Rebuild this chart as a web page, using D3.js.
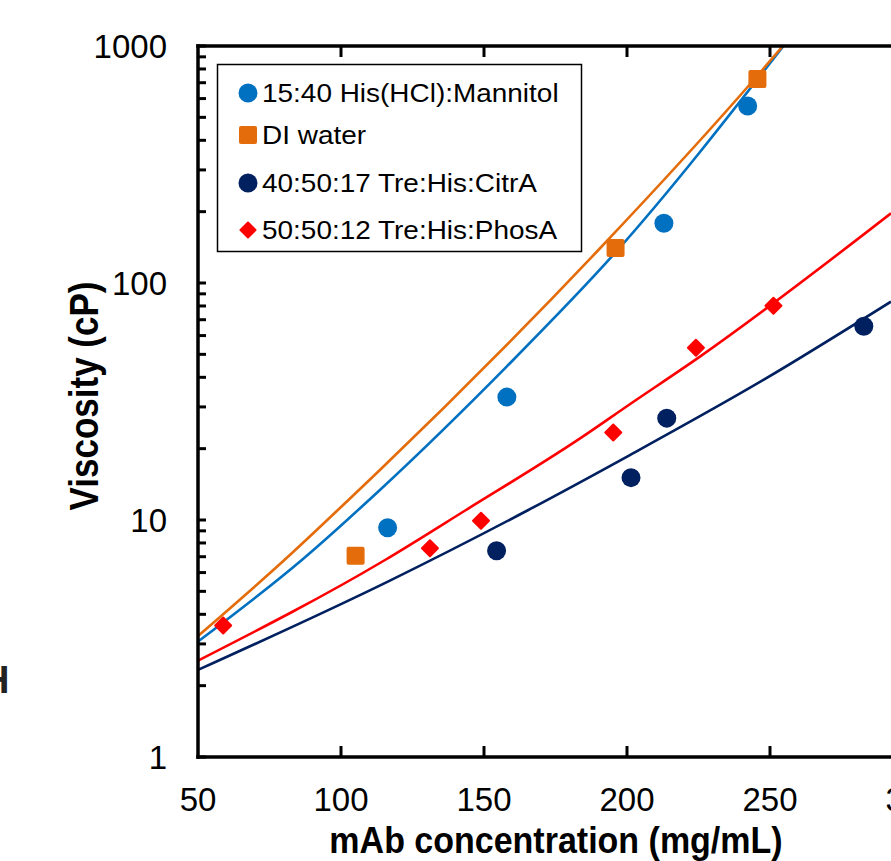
<!DOCTYPE html>
<html>
<head>
<meta charset="utf-8">
<script src="https://cdn.jsdelivr.net/npm/d3@7"></script>
<style>
  html, body { margin: 0; padding: 0; background: #fff; }
  svg { display: block; font-family: Arial, "Liberation Sans", sans-serif; }
</style>
</head>
<body>
<svg id="chart" width="891" height="861"></svg>
<script>
// Measured viscosity (cP) versus mAb concentration (mg/mL)
const hisMannitolConc = [116.3, 158.0, 212.9, 242.2];
const hisMannitolVisc = [9.28, 33.0, 178.6, 558];

const diWaterConc = [105.1, 196.0, 245.6];
const diWaterVisc = [7.07, 140.5, 726];

const citrConc = [154.4, 201.4, 213.9, 282.8];
const citrVisc = [7.42, 15.09, 26.9, 65.7];

const phosConc = [58.8, 131.1, 148.95, 195.2, 224.1, 251.2];
const phosVisc = [3.59, 7.60, 9.93, 23.4, 53.3, 80.2];

// Fitted trend curves, sampled along each fit
const hisMannitolFitConc = [50, 86.3, 113.6, 158.0, 195.2, 254.7];
const hisMannitolFitVisc = [3.07, 6.78, 13.39, 44.5, 131.3, 1000];

const diWaterFitConc = [50, 80.2, 102.6, 113.6, 190.0, 245.5, 254.5];
const diWaterFitVisc = [3.24, 6.78, 12.15, 16.25, 137.8, 747, 1000];

const citrFitConc = [50, 117.1, 165.5, 201.0, 247.7, 292.3];
const citrFitVisc = [2.33, 5.55, 11.02, 18.79, 38.99, 83.4];

const phosFitConc = [50, 115.4, 143.7, 183.6, 201.0, 225.5, 292.3];
const phosFitVisc = [2.55, 6.78, 11.02, 22.1, 30.8, 48.9, 196.8];

// Axis ticks
const xTicks = [50, 100, 150, 200, 250, 300];
const yTicks = [1, 10, 100, 1000];

const seriesNames = [
  "15:40 His(HCl):Mannitol",
  "DI water",
  "40:50:17 Tre:His:CitrA",
  "50:50:12 Tre:His:PhosA"
];
const seriesColors = ["#0070C0", "#E46C0A", "#002060", "#FF0000"];
const seriesShapes = ["circle", "square", "circle", "diamond"];

const series = [
  { conc: hisMannitolConc, visc: hisMannitolVisc, fitC: hisMannitolFitConc, fitV: hisMannitolFitVisc },
  { conc: diWaterConc, visc: diWaterVisc, fitC: diWaterFitConc, fitV: diWaterFitVisc },
  { conc: citrConc, visc: citrVisc, fitC: citrFitConc, fitV: citrFitVisc },
  { conc: phosConc, visc: phosVisc, fitC: phosFitConc, fitV: phosFitVisc }
].map((s, i) => ({ ...s, name: seriesNames[i], color: seriesColors[i], shape: seriesShapes[i] }));

const svg = d3.select("#chart");
const plotLeft = 198, plotTop = 46, plotBottom = 757;

const x = d3.scaleLinear().domain([50, 300]).range([plotLeft, 913]);
const y = d3.scaleLog().domain([1, 1000]).range([plotBottom, plotTop]);

// Clip plot contents to the axes frame
svg.append("defs").append("clipPath").attr("id", "plot-clip")
  .append("rect").attr("x", plotLeft).attr("y", plotTop)
  .attr("width", 1000).attr("height", plotBottom - plotTop);

const plot = svg.append("g").attr("clip-path", "url(#plot-clip)");

// Fit curves
const line = d3.line()
  .x(d => x(d[0]))
  .y(d => y(d[1]))
  .curve(d3.curveMonotoneX);

plot.selectAll("path.fit")
  .data(series)
  .join("path")
  .attr("class", "fit")
  .attr("fill", "none")
  .attr("stroke", d => d.color)
  .attr("stroke-width", 2.6)
  .attr("d", d => line(d.fitC.map((c, i) => [c, d.fitV[i]])));

// Marker drawing
function marker(sel, shape, color, size) {
  if (shape === "circle") {
    sel.append("circle").attr("r", size / 2).attr("fill", color);
  } else if (shape === "square") {
    sel.append("rect")
      .attr("x", -size / 2).attr("y", -size / 2)
      .attr("width", size).attr("height", size)
      .attr("rx", 2).attr("fill", color);
  } else {
    const h = size / 2;
    sel.append("path")
      .attr("d", `M0,${-h}L${h},0L0,${h}L${-h},0Z`)
      .attr("fill", color)
      .attr("stroke", color).attr("stroke-width", 2).attr("stroke-linejoin", "round");
  }
}

series.forEach(s => {
  const size = s.shape === "diamond" ? 16 : s.shape === "square" ? 18 : 19;
  plot.append("g").selectAll("g")
    .data(s.conc.map((c, i) => [c, s.visc[i]]))
    .join("g")
    .attr("transform", d => `translate(${x(d[0])},${y(d[1])})`)
    .each(function () { marker(d3.select(this), s.shape, s.color, size); });
});

// Axes frame
const frame = svg.append("g").attr("stroke", "#000").attr("stroke-width", 3.5).attr("stroke-linecap", "square");
frame.append("line").attr("x1", plotLeft).attr("x2", plotLeft).attr("y1", plotTop).attr("y2", plotBottom);
frame.append("line").attr("x1", plotLeft).attr("x2", 900).attr("y1", plotTop).attr("y2", plotTop);
frame.append("line").attr("x1", plotLeft).attr("x2", 900).attr("y1", plotBottom).attr("y2", plotBottom);

// X ticks (inward, top and bottom)
const xt = svg.append("g").attr("stroke", "#000").attr("stroke-width", 3);
xt.selectAll("line.b").data(xTicks.slice(1)).join("line").attr("class", "b")
  .attr("x1", d => x(d)).attr("x2", d => x(d))
  .attr("y1", plotBottom).attr("y2", plotBottom - 11);
xt.selectAll("line.t").data(xTicks.slice(1)).join("line").attr("class", "t")
  .attr("x1", d => x(d)).attr("x2", d => x(d))
  .attr("y1", plotTop).attr("y2", plotTop + 11);

svg.append("g").selectAll("text").data(xTicks).join("text")
  .attr("x", d => x(d)).attr("y", 811)
  .attr("text-anchor", "middle")
  .attr("font-size", 33)
  .attr("fill", "#000")
  .text(d => d);

// Y ticks (major and minor, inward)
const yMinor = [];
for (let dec = 1; dec < 1000; dec *= 10) {
  for (let m = 2; m <= 9; m++) yMinor.push(dec * m);
}
const yt = svg.append("g").attr("stroke", "#000").attr("stroke-width", 3);
yt.selectAll("line").data(yTicks.concat(yMinor)).join("line")
  .attr("x1", plotLeft).attr("x2", plotLeft + 8)
  .attr("y1", d => y(d)).attr("y2", d => y(d));

svg.append("g").selectAll("text").data(yTicks).join("text")
  .attr("x", 167).attr("y", d => y(d))
  .attr("dy", "0.36em")
  .attr("text-anchor", "end")
  .attr("font-size", 33)
  .attr("fill", "#000")
  .text(d => d);

// Axis titles
svg.append("text")
  .attr("transform", "translate(98,396) rotate(-90) scale(1,1.17)")
  .attr("text-anchor", "middle")
  .attr("font-size", 35).attr("font-weight", "bold")
  .attr("fill", "#000")
  .text("Viscosity (cP)");

svg.append("text")
  .attr("transform", "translate(556,853) scale(1,1.1)")
  .attr("text-anchor", "middle")
  .attr("font-size", 34).attr("font-weight", "bold")
  .attr("fill", "#000")
  .text("mAb concentration (mg/mL)");

// Neighbouring panel label edge
svg.append("text")
  .attr("x", 9.5).attr("y", 693)
  .attr("text-anchor", "end")
  .attr("font-size", 38).attr("font-weight", "bold")
  .attr("fill", "#222")
  .text("H");

// Legend
const legend = svg.append("g");
legend.append("rect")
  .attr("x", 217.5).attr("y", 64.5)
  .attr("width", 364).attr("height", 187)
  .attr("fill", "#fff").attr("stroke", "#000").attr("stroke-width", 1.5);

const rowY = [93, 135, 183, 230];
const rows = legend.selectAll("g.row").data(series).join("g")
  .attr("class", "row")
  .attr("transform", (d, i) => `translate(248,${rowY[i]})`);
rows.each(function (d) {
  const size = d.shape === "diamond" ? 15 : d.shape === "square" ? 18 : 19;
  marker(d3.select(this), d.shape, d.color, size);
});
rows.append("text")
  .attr("transform", "translate(14,0) scale(1.075,1)")
  .attr("dy", "0.36em")
  .attr("font-size", 26)
  .attr("fill", "#000")
  .text(d => d.name);
</script>
</body>
</html>
